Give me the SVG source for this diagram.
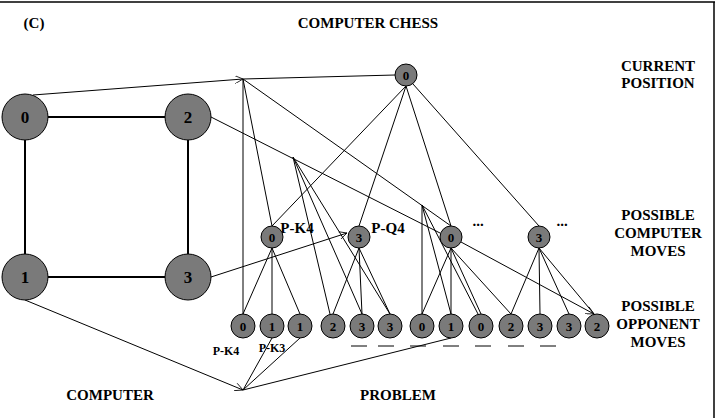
<svg xmlns="http://www.w3.org/2000/svg" width="722" height="418" viewBox="0 0 722 418">
<style>
text{font-family:"Liberation Serif",serif;font-weight:bold;fill:#000}
.t{font-size:15px;text-anchor:middle}
.n circle{fill:#7a7a7a;stroke:#000;stroke-width:1}
.n text{font-size:13px;text-anchor:middle}
.b text{font-size:17px}
.c line{stroke:#000;stroke-width:1;fill:none}
.sq line{stroke:#000;stroke-width:2}
</style>
<defs><marker id="a" viewBox="0 0 10 10" refX="10" refY="5" markerWidth="12" markerHeight="8" orient="auto" markerUnits="userSpaceOnUse"><path d="M0,0 L10,5 L0,10" fill="none" stroke="#000"/></marker></defs>
<rect width="722" height="418" fill="#fff"/>
<line x1="0" y1="2" x2="715" y2="2" stroke="#000" stroke-width="1.5"/>
<line x1="714" y1="2" x2="714" y2="418" stroke="#000" stroke-width="1.5"/>
<text x="34" y="28" class="t">(C)</text>
<text x="368" y="28" class="t">COMPUTER  CHESS</text>
<text x="658" y="71" class="t">CURRENT</text><text x="658" y="88" class="t">POSITION</text>
<text x="658" y="220" class="t">POSSIBLE</text><text x="658" y="238" class="t">COMPUTER</text><text x="658" y="256" class="t">MOVES</text>
<text x="658" y="311" class="t">POSSIBLE</text><text x="658" y="329" class="t">OPPONENT</text><text x="658" y="347" class="t">MOVES</text>
<text x="110" y="400" class="t">COMPUTER</text>
<text x="398" y="400" class="t">PROBLEM</text>
<text x="297" y="233" class="t">P-K4</text>
<text x="388" y="233" class="t">P-Q4</text>
<text x="478" y="226" class="t">...</text>
<text x="562" y="226" class="t">...</text>
<text x="226" y="355" style="font-size:12px;text-anchor:middle">P-K4</text>
<text x="272" y="352" style="font-size:12px;text-anchor:middle">P-K3</text>
<g class="sq"><line x1="48" y1="117" x2="165" y2="117"/><line x1="48" y1="277" x2="165" y2="277"/><line x1="25" y1="140" x2="25" y2="254"/><line x1="188" y1="140" x2="188" y2="254"/></g>
<g class="c">
<line x1="33" y1="95" x2="243" y2="79" marker-end="url(#a)"/>
<line x1="243" y1="79" x2="395" y2="75"/>
<line x1="243" y1="79" x2="243" y2="314"/>
<line x1="243" y1="79" x2="272" y2="226"/>
<line x1="243" y1="79" x2="451" y2="226"/>
<line x1="211" y1="117" x2="440" y2="233"/>
<line x1="406" y1="86" x2="272" y2="226"/>
<line x1="406" y1="86" x2="359" y2="226"/>
<line x1="406" y1="86" x2="451" y2="226"/>
<line x1="413" y1="84" x2="539" y2="226"/>
<line x1="211" y1="277" x2="347" y2="233" marker-end="url(#a)"/>
<line x1="293" y1="157" x2="330" y2="314"/>
<line x1="293" y1="157" x2="362" y2="314"/>
<line x1="293" y1="157" x2="390" y2="314"/>
<line x1="422" y1="205" x2="422" y2="314"/>
<line x1="422" y1="205" x2="451" y2="314"/>
<line x1="422" y1="205" x2="478" y2="314"/>
<line x1="272" y1="248" x2="243" y2="314"/>
<line x1="272" y1="248" x2="272" y2="314"/>
<line x1="272" y1="248" x2="300" y2="314"/>
<line x1="359" y1="248" x2="333" y2="314"/>
<line x1="359" y1="248" x2="362" y2="314"/>
<line x1="359" y1="248" x2="390" y2="314"/>
<line x1="451" y1="248" x2="422" y2="314"/>
<line x1="451" y1="248" x2="451" y2="314"/>
<line x1="451" y1="248" x2="481" y2="314"/>
<line x1="451" y1="248" x2="511" y2="314"/>
<line x1="461" y1="242" x2="594" y2="314" marker-end="url(#a)"/>
<line x1="539" y1="248" x2="511" y2="314"/>
<line x1="539" y1="248" x2="540" y2="314"/>
<line x1="539" y1="248" x2="569" y2="314"/>
<line x1="539" y1="248" x2="594" y2="314"/>
<line x1="25" y1="300" x2="243" y2="390" marker-end="url(#a)"/>
<line x1="243" y1="390" x2="272" y2="338"/>
<line x1="243" y1="390" x2="300" y2="338"/>
<line x1="243" y1="390" x2="451" y2="338"/>
<line x1="351" y1="346" x2="367" y2="346"/><line x1="378" y1="346" x2="394" y2="346"/><line x1="410" y1="346" x2="426" y2="346"/><line x1="443" y1="346" x2="459" y2="346"/><line x1="475" y1="346" x2="491" y2="346"/><line x1="508" y1="346" x2="524" y2="346"/><line x1="540" y1="346" x2="556" y2="346"/>
</g>
<g class="n b" id="b0"><circle cx="25" cy="117" r="23"/><text x="25" y="123">0</text></g>
<g class="n b" id="b2"><circle cx="188" cy="117" r="23"/><text x="188" y="123">2</text></g>
<g class="n b" id="b1"><circle cx="25" cy="277" r="23"/><text x="25" y="283">1</text></g>
<g class="n b" id="b3"><circle cx="188" cy="277" r="23"/><text x="188" y="283">3</text></g>
<g class="n" id="root"><circle cx="406" cy="75" r="11"/><text x="406" y="80">0</text></g>
<g class="n" id="m0"><circle cx="272" cy="237" r="11"/><text x="272" y="242">0</text></g>
<g class="n" id="m1"><circle cx="359" cy="237" r="11"/><text x="359" y="242">3</text></g>
<g class="n" id="m2"><circle cx="451" cy="237" r="11"/><text x="451" y="242">0</text></g>
<g class="n" id="m3"><circle cx="539" cy="237" r="11"/><text x="539" y="242">3</text></g>
<g class="n" id="l0"><circle cx="243" cy="326" r="12"/><text x="243" y="331">0</text></g>
<g class="n" id="l1"><circle cx="272" cy="326" r="12"/><text x="272" y="331">1</text></g>
<g class="n" id="l2"><circle cx="300" cy="326" r="12"/><text x="300" y="331">1</text></g>
<g class="n" id="l3"><circle cx="333" cy="326" r="12"/><text x="333" y="331">2</text></g>
<g class="n" id="l4"><circle cx="362" cy="326" r="12"/><text x="362" y="331">3</text></g>
<g class="n" id="l5"><circle cx="390" cy="326" r="12"/><text x="390" y="331">3</text></g>
<g class="n" id="l6"><circle cx="422" cy="326" r="12"/><text x="422" y="331">0</text></g>
<g class="n" id="l7"><circle cx="451" cy="326" r="12"/><text x="451" y="331">1</text></g>
<g class="n" id="l8"><circle cx="481" cy="326" r="12"/><text x="481" y="331">0</text></g>
<g class="n" id="l9"><circle cx="511" cy="326" r="12"/><text x="511" y="331">2</text></g>
<g class="n" id="l10"><circle cx="540" cy="326" r="12"/><text x="540" y="331">3</text></g>
<g class="n" id="l11"><circle cx="569" cy="326" r="12"/><text x="569" y="331">3</text></g>
<g class="n" id="l12"><circle cx="597" cy="326" r="12"/><text x="597" y="331">2</text></g>
</svg>
